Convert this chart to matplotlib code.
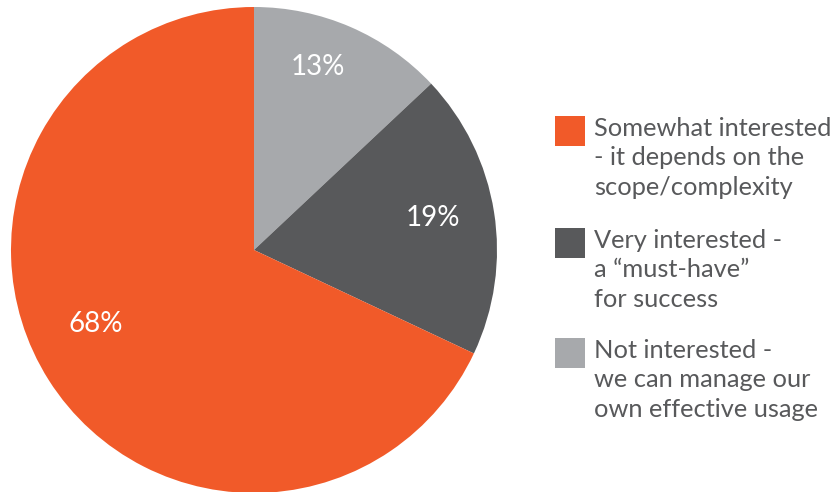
import matplotlib
matplotlib.use("Agg")
import matplotlib.pyplot as plt
from matplotlib.patches import Rectangle

categories = ["Not interested -\nwe can manage our\nown effective usage",
              "Very interested -\na \u201cmust-have\u201d\nfor success",
              "Somewhat interested\n- it depends on the\nscope/complexity"]
values = [13, 19, 68]
colors = ["#A7A9AC", "#58595B", "#F15A29"]
pct_labels = ["13%", "19%", "68%"]
label_pos = [(0.263, 0.753), (0.737, 0.132), (-0.650, -0.305)]

legend_order = [2, 1, 0]

W, H = 838, 492
fig = plt.figure(figsize=(W / 100, H / 100), dpi=100)
plt.rcParams['font.family'] = ['Lato', 'DejaVu Sans']

R = 243
cx, cy = 254, 250
ax = fig.add_axes([(cx - R) / W, (H - cy - R) / H, 2 * R / W, 2 * R / H])
ax.pie(values, colors=colors, startangle=90, counterclock=False, radius=1,
       wedgeprops=dict(linewidth=0))
ax.set_xlim(-1, 1)
ax.set_ylim(-1, 1)
ax.set_aspect('equal')
ax.axis('off')

for lab, (x, y) in zip(pct_labels, label_pos):
    ax.text(x, y, lab, color='white', fontsize=20, ha='center', va='center')

text_color = "#58595B"
sq = 30
block_tops = [116, 228, 338]
for idx, top in zip(legend_order, block_tops):
    fig.patches.append(Rectangle((555 / W, (H - top - sq) / H), sq / W, sq / H,
                                 transform=fig.transFigure, facecolor=colors[idx],
                                 edgecolor='none'))
    fig.text(594 / W, (H - top - 1) / H, categories[idx], color=text_color,
             fontsize=18.3, ha='left', va='top', linespacing=1.33)

fig.savefig("out.png", dpi=100)
